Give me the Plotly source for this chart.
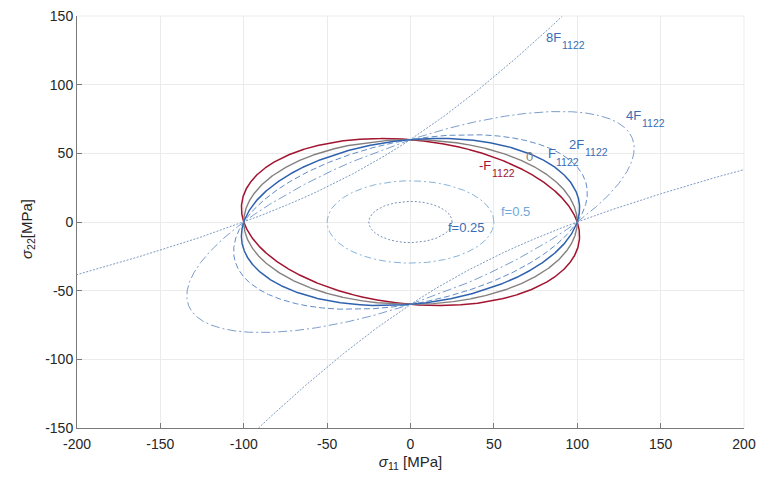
import numpy as np
import plotly.graph_objects as go

# ---- data ----
X_STRENGTH = 100.0          # sigma11 intercept [MPa]
Y_STRENGTH = 60.0           # sigma22 intercept [MPa]
F1122_UNIT = -1.0 / 18000   # unit interaction coefficient
interaction_multipliers = [-1, 0, 1, 2, 4, 8]
curve_label_main = ["-F", "0", "F", "2F", "4F", "8F"]
curve_label_sub = ["1122", "", "1122", "1122", "1122", "1122"]
f_levels = [0.5, 0.25]
f_labels = ["f=0.5", "f=0.25"]
x_ticks = [-200, -150, -100, -50, 0, 50, 100, 150, 200]
y_ticks = [-150, -100, -50, 0, 50, 100, 150]

# ---- styles ----
curve_styles = [
    dict(color="#A2142F", width=1.5, dash="solid"),
    dict(color="#858080", width=1.4, dash="solid"),
    dict(color="#2F62AE", width=1.5, dash="solid"),
    dict(color="#4F7FBF", width=0.9, dash="6px,3px"),
    dict(color="#5A84BE", width=0.8, dash="9px,3px,2px,3px"),
    dict(color="#5A80B5", width=0.8, dash="2px,1.5px"),
]
label_colors = ["#A2142F", "#808080", "#3A6DB5", "#3A6DB5", "#3A6DB5", "#3A6DB5"]
label_pos = [(40, 39), (68, 45.5), (81, 47.5), (94, 54.5), (128, 75.5), (80, 132.5)]
f_styles = [dict(color="#86B3DA", width=1.0, dash="7px,3px,2px,3px"),
            dict(color="#7890B8", width=1.0, dash="2px,2px")]
f_label_colors = ["#6FA9DC", "#3A6DB5"]
f_label_pos = [(53, 6.5), (21.5, -5.2)]

a = 1.0 / X_STRENGTH ** 2
b = 1.0 / Y_STRENGTH ** 2


def conic(c, level=1.0, rmax=600.0):
    th = np.linspace(0, 2 * np.pi, 4001)
    q = a * np.cos(th) ** 2 + b * np.sin(th) ** 2 + c * np.cos(th) * np.sin(th)
    xs, ys = [], []
    for t, qq in zip(th, q):
        if qq <= 0:
            xs.append(None); ys.append(None); continue
        r = level / np.sqrt(qq)
        if r > rmax:
            xs.append(None); ys.append(None); continue
        xs.append(r * np.cos(t)); ys.append(r * np.sin(t))
    return xs, ys


fig = go.Figure()
for m, st in zip(interaction_multipliers, curve_styles):
    xs, ys = conic(m * F1122_UNIT)
    fig.add_trace(go.Scatter(x=xs, y=ys, mode="lines", line=st,
                             hoverinfo="skip", showlegend=False))
for lv, st in zip(f_levels, f_styles):
    xs, ys = conic(0.0, lv)
    fig.add_trace(go.Scatter(x=xs, y=ys, mode="lines", line=st,
                             hoverinfo="skip", showlegend=False))

font_family = "Liberation Sans, Arial, sans-serif"
MAIN_SIZE = 13
SUB_SIZE = 10.5
XS, YS = 0, 3
char_w = {"-": 4.3, "F": 7.9, "0": 7.2, "2": 7.2, "4": 7.2, "8": 7.2}
for main, sub, col, (px, py) in zip(curve_label_main, curve_label_sub, label_colors, label_pos):
    fig.add_annotation(x=px, y=py, text=main, showarrow=False, xanchor="left",
                       yanchor="middle", xshift=XS, yshift=YS,
                       font=dict(color=col, size=MAIN_SIZE, family=font_family))
    if sub:
        w = sum(char_w.get(ch, 7.2) for ch in main)
        fig.add_annotation(x=px, y=py, text=sub, showarrow=False, xanchor="left",
                           yanchor="middle", xshift=XS + w + 1, yshift=YS - 8,
                           font=dict(color=col, size=SUB_SIZE, family=font_family))
for txt, col, (px, py) in zip(f_labels, f_label_colors, f_label_pos):
    fig.add_annotation(x=px, y=py, text=txt, showarrow=False, xanchor="left",
                       yanchor="middle", xshift=XS, yshift=2,
                       font=dict(color=col, size=MAIN_SIZE, family=font_family))

axis_common = dict(
    showgrid=True, gridcolor="#EBEBEB", gridwidth=1, zeroline=False,
    showline=True, linecolor="#7A7A7A", linewidth=1, mirror=False,
    ticks="inside", ticklen=5, tickcolor="#7A7A7A", automargin=False,
    tickfont=dict(size=14, color="#262626", family=font_family),
)
fig.update_xaxes(range=[-200, 200], tickvals=x_ticks,
                 ticktext=[str(v) for v in x_ticks], ticklabelstandoff=3, **axis_common,
                 title=dict(text="<i>σ</i><sub>11</sub> [MPa]", standoff=5,
                            font=dict(size=15, color="#262626", family=font_family)))
fig.update_yaxes(range=[-150, 150], tickvals=y_ticks,
                 ticktext=[str(v) for v in y_ticks], **axis_common)

# y-axis title placed explicitly
fig.add_annotation(xref="paper", yref="paper", x=0, y=0.5, xanchor="center",
                   yanchor="middle", xshift=-50, yshift=-7, textangle=-90,
                   showarrow=False, text="<i>σ</i><sub>22</sub>[MPa]",
                   font=dict(size=15, color="#262626", family=font_family))

# faint top/right border (grid lines at the limits)
fig.add_shape(type="line", xref="paper", yref="paper", x0=0, x1=1, y0=1, y1=1,
              line=dict(color="#EBEBEB", width=1))
fig.add_shape(type="line", xref="paper", yref="paper", x0=1, x1=1, y0=0, y1=1,
              line=dict(color="#EBEBEB", width=1))

fig.update_layout(
    width=758, height=477,
    margin=dict(l=77, r=14, t=16, b=49, autoexpand=False),
    paper_bgcolor="white", plot_bgcolor="white",
    showlegend=False,
)
fig.write_html("out.html")
